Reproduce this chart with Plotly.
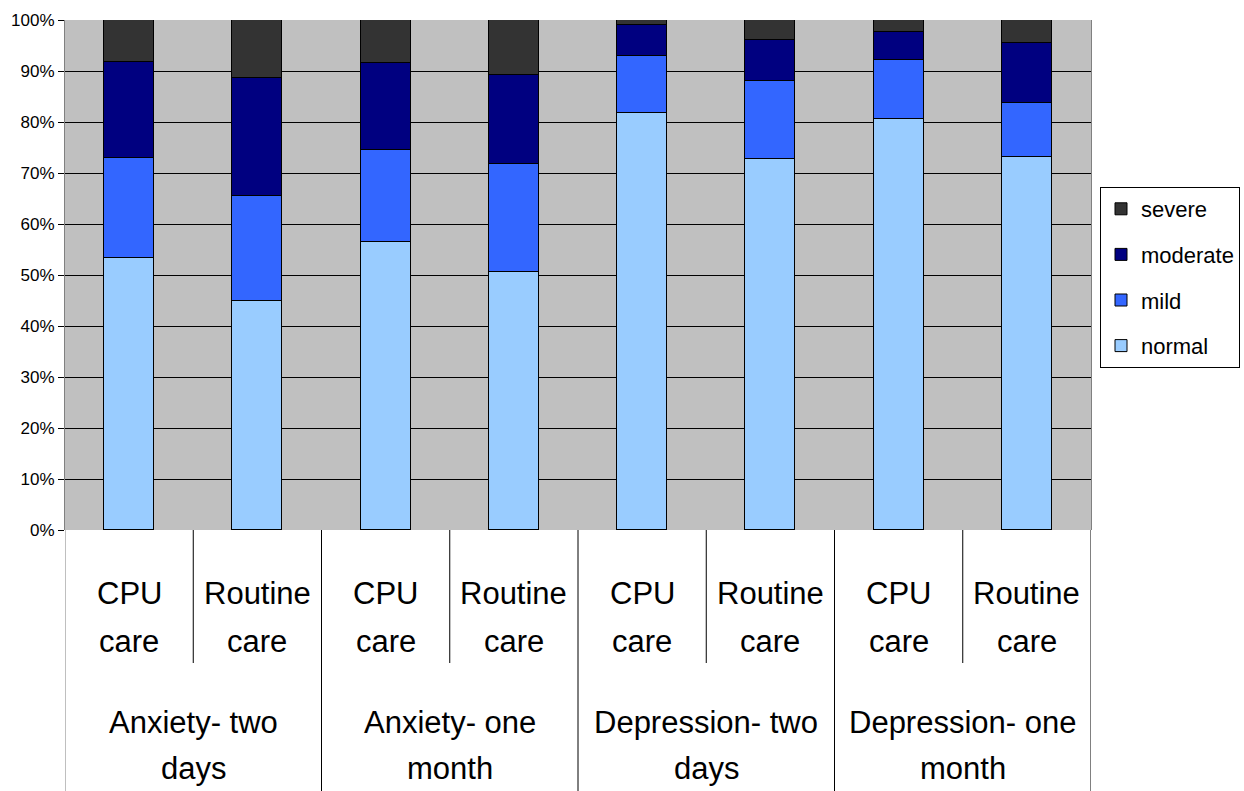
import plotly.graph_objects as go

groups = ["Anxiety- two<br>days", "Anxiety- one<br>month", "Depression- two<br>days", "Depression- one<br>month"]
subgroups = ["CPU<br>care", "Routine<br>care"]

normal = [53.3, 44.9, 56.5, 50.6, 81.8, 72.7, 80.6, 73.1]
mild = [19.7, 20.6, 18.0, 21.2, 11.2, 15.3, 11.5, 10.6]
moderate = [18.8, 23.2, 17.0, 17.5, 6.0, 8.1, 5.5, 11.8]
severe = [8.2, 11.3, 8.5, 10.7, 1.0, 3.9, 2.4, 4.5]

series = [("normal", normal, "#99CCFF"), ("mild", mild, "#3366FF"),
          ("moderate", moderate, "#000080"), ("severe", severe, "#333333")]

yticks = [0, 10, 20, 30, 40, 50, 60, 70, 80, 90, 100]
ytick_text = [f"{v}%" for v in yticks]

FONT = "Liberation Sans, Arial, sans-serif"
W, H = 1244, 791
L, R, T, B = 65, 1091, 20, 530

n = len(groups) * len(subgroups)
xs = list(range(n))

fig = go.Figure()
for i, (name, vals, col) in enumerate(series):
    fig.add_trace(go.Bar(x=xs, y=vals, name=name, width=0.39,
                         marker=dict(color=col, line=dict(color="black", width=1)),
                         legendgroup=name, legendrank=len(series) - i))

def py(p):
    return (B - p) / (B - T)

annotations = []
shapes = []
for gi, g in enumerate(groups):
    for si, s in enumerate(subgroups):
        xi = gi * len(subgroups) + si
        for li, line in enumerate(s.split("<br>")):
            annotations.append(dict(x=xi, y=py(593 + 48 * li), xref="x", yref="paper",
                                    text=line, showarrow=False, xanchor="center", yanchor="middle",
                                    font=dict(size=31, color="black", family=FONT)))
    gx = gi * len(subgroups) + (len(subgroups) - 1) / 2
    for li, line in enumerate(g.split("<br>")):
        annotations.append(dict(x=gx, y=py(722 + 46 * li), xref="x", yref="paper",
                                text=line, showarrow=False, xanchor="center", yanchor="middle",
                                font=dict(size=31, color="black", family=FONT)))

# dividers
for k in range(n + 1):
    xb = k - 0.5
    major = (k % len(subgroups) == 0)
    shapes.append(dict(type="line", xref="x", yref="paper", x0=xb, x1=xb,
                       y0=0, y1=py(791 if major else 663),
                       line=dict(color="#000000" if k != 0 else "#808080", width=1)))

fig.update_layout(
    width=W, height=H,
    margin=dict(l=L, r=W - R, t=T, b=H - B, autoexpand=False),
    paper_bgcolor="white", plot_bgcolor="#C0C0C0",
    barmode="stack", bargap=0,
    font=dict(family=FONT, color="black"),
    showlegend=True,
    legend=dict(x=(1100 - L) / (R - L), y=py(187), xanchor="left", yanchor="top",
                bgcolor="white", bordercolor="black", borderwidth=1,
                traceorder="grouped", tracegroupgap=14,
                font=dict(size=22, color="black", family=FONT)),
    xaxis=dict(range=[-0.5, n - 0.5], showticklabels=False, showgrid=False,
               zeroline=False, ticks="", showline=False, fixedrange=True),
    yaxis=dict(range=[0, 100], tickvals=yticks, ticktext=ytick_text,
               showgrid=True, gridcolor="black", gridwidth=1, zeroline=False,
               ticks="outside", ticklen=6, tickcolor="black",
               showline=True, linecolor="#808080", mirror=True,
               tickfont=dict(size=17, color="black", family=FONT)),
    annotations=annotations,
    shapes=shapes,
)

fig.write_html("out.html", config={"displayModeBar": False},
               post_script="document.body.style.margin='0';document.body.style.overflow='hidden';")
